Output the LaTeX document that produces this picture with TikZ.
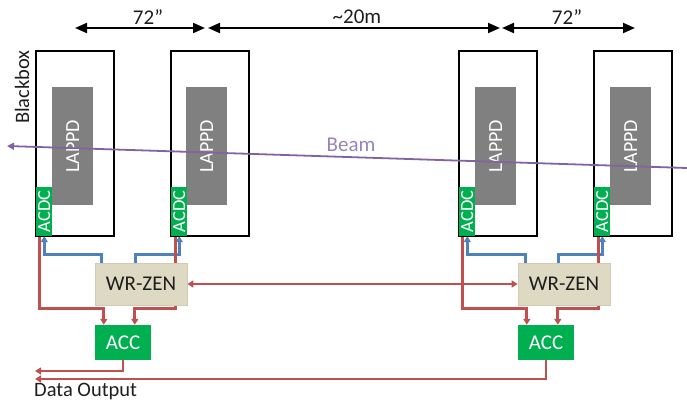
\documentclass[tikz,border=0pt]{standalone}
\usepackage{fontspec}
\setmainfont{Carlito}
\usetikzlibrary{arrows.meta,calc,backgrounds}
\definecolor{cred}{HTML}{C0504D}
\definecolor{cblue}{HTML}{4F81BD}
\definecolor{cgreen}{HTML}{00B050}
\definecolor{cgray}{HTML}{808080}
\definecolor{cbeige}{HTML}{DDD9C3}
\definecolor{cbeigeb}{HTML}{CFCBB4}
\definecolor{cpurple}{HTML}{8064A2}
\definecolor{cpurplet}{HTML}{9884BC}
\definecolor{ctext}{HTML}{1E1E1E}
\begin{document}
\begin{tikzpicture}[x=1pt,y=-1pt,
  bbox/.style={draw=black, line width=2.2pt, fill=white, minimum width=78pt, minimum height=185pt, inner sep=0pt, anchor=north west},
  lappd/.style={fill=cgray, minimum width=41pt, minimum height=118pt, inner sep=0pt, anchor=north west, text=white, font=\fontsize{20}{20}\selectfont},
  acdc/.style={fill=cgreen, minimum width=16pt, minimum height=49pt, inner sep=0pt, anchor=south west, text=white, font=\fontsize{18.5}{18.5}\selectfont},
  wrzen/.style={fill=cbeige, draw=cbeigeb, line width=0.8pt, minimum width=92pt, minimum height=42pt, inner sep=0pt, text=ctext, font=\fontsize{21}{21}\selectfont},
  acc/.style={fill=cgreen, minimum width=56pt, minimum height=35pt, inner sep=0pt, text=white, font=\fontsize{21}{21}\selectfont},
  lbl/.style={text=ctext, font=\fontsize{20.5}{20.5}\selectfont, inner sep=0pt},
  dim/.style={line width=2pt, {Triangle[length=12pt,width=10pt]}-{Triangle[length=12pt,width=10pt]}},
  redc/.style={draw=cred, line width=2.9pt},
  bluec/.style={draw=cblue, line width=2.9pt},
  rtip/.style={-{Triangle[length=6pt,width=7pt]}},
]
\useasboundingbox (0,0) rectangle (687,402);

% black boxes
\node[bbox] (bb1) at (35,50) {};
\node[bbox] (bb2) at (170,50) {};
\node[bbox] (bb3) at (458,50) {};
\node[bbox] (bb4) at (593,50) {};

% LAPPDs
\node[lappd] (lappd1) at ($(bb1.north west)+(17,37)$) {\rotatebox{90}{LAPPD}};
\node[lappd] (lappd2) at ($(bb2.north west)+(16,37)$) {\rotatebox{90}{LAPPD}};
\node[lappd] (lappd3) at ($(bb3.north west)+(17,37)$) {\rotatebox{90}{LAPPD}};
\node[lappd] (lappd4) at ($(bb4.north west)+(17,37)$) {\rotatebox{90}{LAPPD}};

% ACDCs
\node[acdc] (acdc1) at ($(bb1.south west)+(1.1,-1.1)$) {\rotatebox{90}{ACDC}};
\node[acdc] (acdc2) at ($(bb2.south west)+(1.1,-1.1)$) {\rotatebox{90}{ACDC}};
\node[acdc] (acdc3) at ($(bb3.south west)+(1.1,-1.1)$) {\rotatebox{90}{ACDC}};
\node[acdc] (acdc4) at ($(bb4.south west)+(1.1,-1.1)$) {\rotatebox{90}{ACDC}};

\node[lbl, rotate=90] (bblabel) at (22,87) {Blackbox};

% electronics
\node[wrzen] (wr1) at (141,284) {WR-ZEN};
\node[wrzen] (wr2) at (564,284) {WR-ZEN};
\node[acc] (acc1) at (123,342.5) {ACC};
\node[acc] (acc2) at (546,342.5) {ACC};

\node[lbl, anchor=west] (dataout) at (34,391) {Data Output};

\coordinate (do1) at (35,371);
\coordinate (do2) at (35,379);

\begin{scope}[on background layer]
  % left group
  \draw[bluec, rtip] ($(wr1.north west)+(7,0)$) -- ++(0,-8) -| (acdc1.south);
  \draw[bluec, rtip] ($(wr1.north west)+(41,0)$) -- ++(0,-8) -| (acdc2.south);
  \draw[redc, rtip] ($(acdc1.south)+(-4.5,0)$) |- ($(acc1.north west)+(9,-16)$) -- ($(acc1.north west)+(9,0)$);
  \draw[redc, rtip] ($(acdc2.south)+(-4,0)$) |- ($(acc1.north west)+(40,-16)$) -- ($(acc1.north west)+(40,0)$);
  % right group
  \draw[bluec, rtip] ($(wr2.north west)+(8,0)$) -- ++(0,-8) -| (acdc3.south);
  \draw[bluec, rtip] ($(wr2.north west)+(41,0)$) -- ++(0,-8) -| (acdc4.south);
  \draw[redc, rtip] ($(acdc3.south)+(-4.5,0)$) |- ($(acc2.north west)+(9,-16)$) -- ($(acc2.north west)+(9,0)$);
  \draw[redc, rtip] ($(acdc4.south)+(-4,0)$) |- ($(acc2.north west)+(40,-16)$) -- ($(acc2.north west)+(40,0)$);
  % link between WR-ZENs
  \draw[redc, {Triangle[length=6pt,width=7pt]}-{Triangle[length=6pt,width=7pt]}] (wr1.east) -- (wr2.west);
  % data output
  \draw[redc, rtip] (acc1.south) |- (do1);
  \draw[redc, rtip] (acc2.south) |- (do2);
\end{scope}

% dimension arrows
\coordinate (d1) at (75,28);
\coordinate (d2) at (205,28);
\coordinate (d3) at (208,28);
\coordinate (d4) at (500,28);
\coordinate (d5) at (502,28);
\coordinate (d6) at (635,28);
\draw[dim] (d1) -- (d2);
\draw[dim] (d3) -- (d4);
\draw[dim] (d5) -- (d6);
\node[lbl, font=\fontsize{21}{21}\selectfont] (dl1) at (148,17) {72”};
\node[lbl, font=\fontsize{21}{21}\selectfont] (dl2) at (357,17) {\textasciitilde 20m};
\node[lbl, font=\fontsize{21}{21}\selectfont] (dl3) at (567,17) {72”};

% beam
\coordinate (beamR) at (687,168);
\coordinate (beamL) at (7,146);
\draw[cpurple, line width=1.8pt, -{Triangle[length=7pt,width=7pt]}] (beamR) -- (beamL);
\node[lbl, text=cpurplet, font=\fontsize{21}{21}\selectfont] (beamlbl) at (351,145) {Beam};
\end{tikzpicture}
\end{document}
